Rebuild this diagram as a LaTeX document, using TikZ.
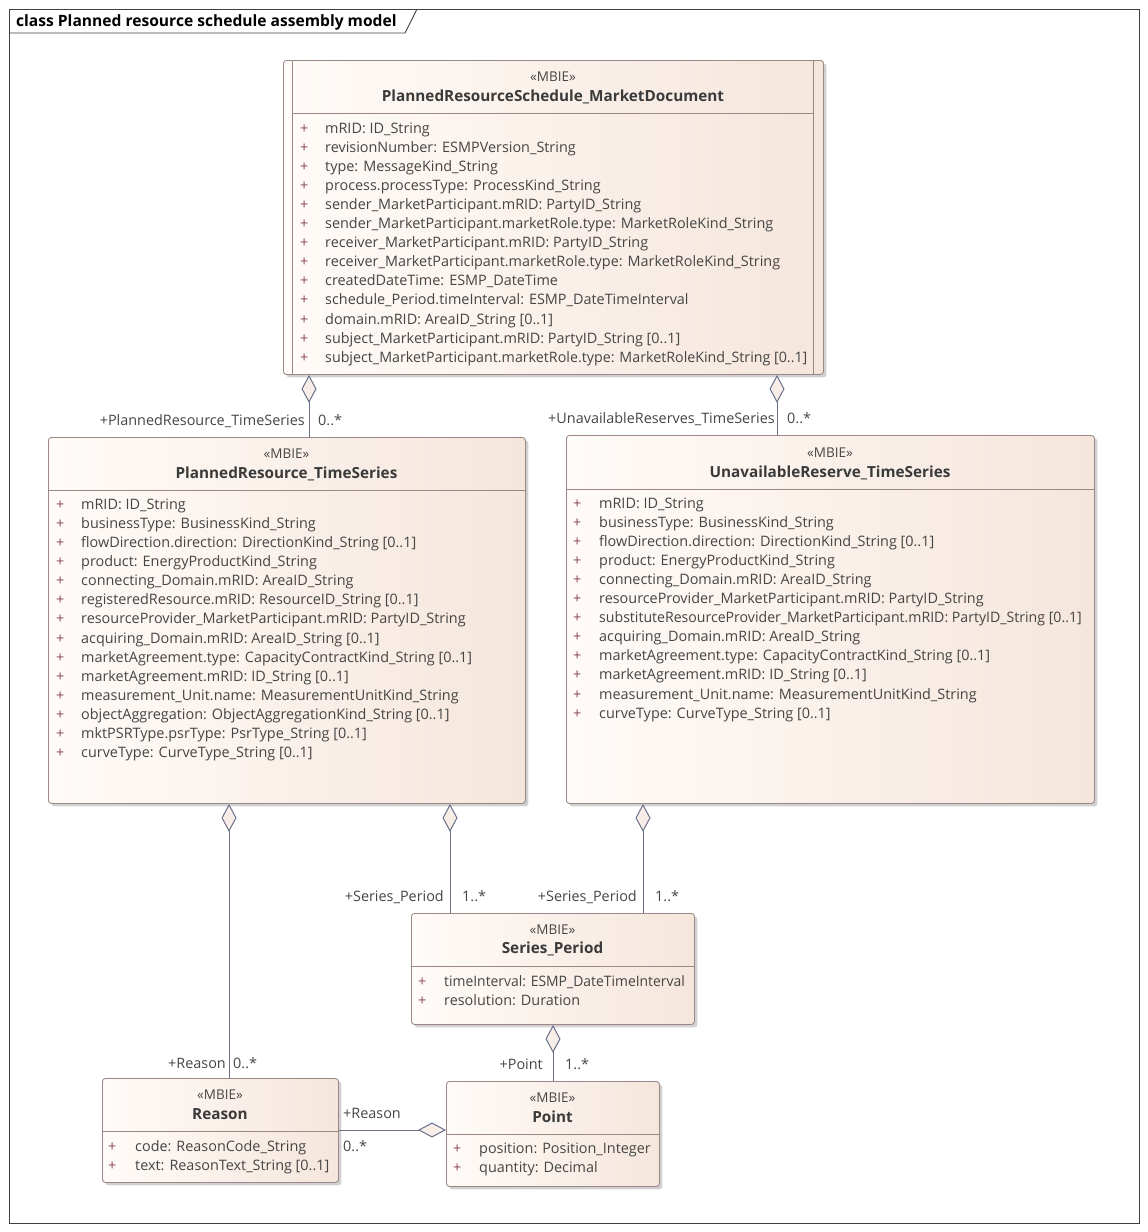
\documentclass[tikz,border=0pt]{standalone}
\usepackage{fontspec}
\setmainfont{Open Sans}
\usepackage{tikz}
\usetikzlibrary{arrows.meta,shadows,calc}

\definecolor{clsline}{HTML}{9C8787}
\definecolor{clsL}{HTML}{FFFBF8}
\definecolor{clsR}{HTML}{F5E6DC}
\definecolor{dfill}{HTML}{F9EDE8}
\definecolor{conn}{HTML}{68708A}
\definecolor{txt}{HTML}{454545}
\definecolor{txtdark}{HTML}{3A3A3A}
\definecolor{plusc}{HTML}{8A4B58}

\begin{document}
\begin{tikzpicture}[
    x=1pt, y=-1pt,
    cls/.style={draw=clsline, line width=0.9pt, rounded corners=3pt, left color=clsL, right color=clsR,
      anchor=north west, inner sep=0pt,
      drop shadow={shadow xshift=3pt, shadow yshift=-3pt, fill=black, opacity=0.18}},
    stereo/.style={font=\fontsize{13.5}{15}\selectfont, text=txt, anchor=base, inner sep=0pt},
    cname/.style={font=\bfseries\fontsize{15.3}{18}\selectfont, text=txtdark, anchor=base, inner sep=0pt},
    attr/.style={font=\fontsize{14.4}{17}\selectfont, text=txt, anchor=base west, inner sep=0pt},
    plus/.style={attr, text=plusc},
    sep/.style={draw=clsline, line width=0.9pt},
    agg/.style={draw=conn, line width=1pt, {Diamond[length=28pt, width=15pt, fill=dfill, line width=1pt]}-},
    role/.style={font=\fontsize{14.4}{17}\selectfont, text=txt, anchor=base east, inner sep=0pt},
    mult/.style={role, anchor=base west}
  ]
  \useasboundingbox (0,0) rectangle (1148,1232);

  % diagram frame and title tab
  \draw[line width=0.9pt, draw=black!75] (9,9) rectangle (1139,1223);
  \draw[line width=0.9pt, draw=black!75] (9,33) -- (405,33) -- (417,9);
  \node[font=\bfseries\fontsize{15.6}{18}\selectfont, anchor=base west, inner sep=0pt] (title) at (16,26)
    {class Planned resource schedule assembly model};

  % PlannedResourceSchedule_MarketDocument
  \node[cls, minimum width=540pt, minimum height=314pt] (doc) at (283,60) {};
  \draw[sep] (292,60) -- (292,374);
  \draw[sep] (813,60) -- (813,374);
  \node[stereo] (docSt) at (553,81) {«MBIE»};
  \node[cname] (docNm) at (553,101) {PlannedResourceSchedule\_MarketDocument};
  \draw[sep] (292,113) -- (813,113);
  \foreach \a [count=\i from 0] in {mRID: ID\_String, revisionNumber: ESMPVersion\_String,
      type: MessageKind\_String, process.processType: ProcessKind\_String,
      sender\_MarketParticipant.mRID: PartyID\_String,
      sender\_MarketParticipant.marketRole.type: MarketRoleKind\_String,
      receiver\_MarketParticipant.mRID: PartyID\_String,
      receiver\_MarketParticipant.marketRole.type: MarketRoleKind\_String,
      createdDateTime: ESMP\_DateTime, schedule\_Period.timeInterval: ESMP\_DateTimeInterval,
      domain.mRID: AreaID\_String [0..1], subject\_MarketParticipant.mRID: PartyID\_String [0..1],
      \scalebox{0.99}[1]{subject\_MarketParticipant.marketRole.type: MarketRoleKind\_String [0..1]}}
  {
    \node[plus] (docP\i) at (300,133+19.1*\i) {+};
    \node[attr] (docA\i) at (325,133+19.1*\i) {\a};
  }

  % PlannedResource_TimeSeries
  \node[cls, minimum width=477pt, minimum height=366pt] (prts) at (48,437) {};
  \node[stereo] (prtsSt) at (286.5,458) {«MBIE»};
  \node[cname] (prtsNm) at (286.5,478) {PlannedResource\_TimeSeries};
  \draw[sep] (prts.west |- 0,490) -- (prts.east |- 0,490);
  \foreach \a [count=\i from 0] in {mRID: ID\_String, businessType: BusinessKind\_String,
      flowDirection.direction: DirectionKind\_String [0..1], product: EnergyProductKind\_String,
      connecting\_Domain.mRID: AreaID\_String, registeredResource.mRID: ResourceID\_String [0..1],
      resourceProvider\_MarketParticipant.mRID: PartyID\_String,
      acquiring\_Domain.mRID: AreaID\_String [0..1],
      marketAgreement.type: CapacityContractKind\_String [0..1],
      marketAgreement.mRID: ID\_String [0..1], measurement\_Unit.name: MeasurementUnitKind\_String,
      objectAggregation: ObjectAggregationKind\_String [0..1],
      mktPSRType.psrType: PsrType\_String [0..1], curveType: CurveType\_String [0..1]}
  {
    \node[plus] (prtsP\i) at (56,509+19.15*\i) {+};
    \node[attr] (prtsA\i) at (81,509+19.15*\i) {\a};
  }

  % UnavailableReserve_TimeSeries
  \node[cls, minimum width=528pt, minimum height=368pt] (urts) at (566,435) {};
  \node[stereo] (urtsSt) at (830,457) {«MBIE»};
  \node[cname] (urtsNm) at (830,477) {UnavailableReserve\_TimeSeries};
  \draw[sep] (urts.west |- 0,489) -- (urts.east |- 0,489);
  \foreach \a [count=\i from 0] in {mRID: ID\_String, businessType: BusinessKind\_String,
      flowDirection.direction: DirectionKind\_String [0..1], product: EnergyProductKind\_String,
      connecting\_Domain.mRID: AreaID\_String,
      resourceProvider\_MarketParticipant.mRID: PartyID\_String,
      \scalebox{0.98}[1]{substituteResourceProvider\_MarketParticipant.mRID: PartyID\_String [0..1]},
      acquiring\_Domain.mRID: AreaID\_String,
      marketAgreement.type: CapacityContractKind\_String [0..1],
      marketAgreement.mRID: ID\_String [0..1], measurement\_Unit.name: MeasurementUnitKind\_String,
      curveType: CurveType\_String [0..1]}
  {
    \node[plus] (urtsP\i) at (573,508+19.1*\i) {+};
    \node[attr] (urtsA\i) at (599,508+19.1*\i) {\a};
  }

  % Series_Period
  \node[cls, minimum width=283pt, minimum height=111pt] (sp) at (411,913) {};
  \node[stereo] (spSt) at (552.5,934) {«MBIE»};
  \node[cname] (spNm) at (552.5,953) {Series\_Period};
  \draw[sep] (sp.west |- 0,966) -- (sp.east |- 0,966);
  \node[plus] (spP0) at (418,986) {+};
  \node[attr] (spA0) at (444,986) {\scalebox{0.965}[1]{timeInterval: ESMP\_DateTimeInterval}};
  \node[plus] (spP1) at (418,1005) {+};
  \node[attr] (spA1) at (444,1005) {resolution: Duration};

  % Reason
  \node[cls, minimum width=236pt, minimum height=104pt] (rsn) at (102,1078) {};
  \node[stereo] (rsnSt) at (220,1099) {«MBIE»};
  \node[cname] (rsnNm) at (220,1119) {Reason};
  \draw[sep] (rsn.west |- 0,1131) -- (rsn.east |- 0,1131);
  \node[plus] (rsnP0) at (108,1151) {+};
  \node[attr] (rsnA0) at (135,1151) {code: ReasonCode\_String};
  \node[plus] (rsnP1) at (108,1170) {+};
  \node[attr] (rsnA1) at (135,1170) {text: ReasonText\_String [0..1]};

  % Point
  \node[cls, minimum width=213pt, minimum height=105pt] (pt) at (446,1081) {};
  \node[stereo] (ptSt) at (552.5,1102) {«MBIE»};
  \node[cname] (ptNm) at (552.5,1122) {Point};
  \draw[sep] (pt.west |- 0,1134) -- (pt.east |- 0,1134);
  \node[plus] (ptP0) at (453,1153) {+};
  \node[attr] (ptA0) at (479,1153) {position: Position\_Integer};
  \node[plus] (ptP1) at (453,1172) {+};
  \node[attr] (ptA1) at (479,1172) {quantity: Decimal};

  % aggregations
  \draw[agg] (doc.south -| 309,0) -- (prts.north -| 309,0);
  \node[role] (r1) at (305,425) {+PlannedResource\_TimeSeries};
  \node[mult] (m1) at (318,425) {0..*};

  \draw[agg] (doc.south -| 777,0) -- (urts.north -| 777,0);
  \node[role] (r2) at (775,423) {+UnavailableReserves\_TimeSeries};
  \node[mult] (m2) at (787,423) {0..*};

  \draw[agg] (prts.south -| 229,0) -- (rsn.north -| 229,0);
  \node[role] (r3) at (226,1068) {+Reason};
  \node[mult] (m3) at (233,1068) {0..*};

  \draw[agg] (prts.south -| 450,0) -- (sp.north -| 450,0);
  \node[role] (r4) at (444,901) {+Series\_Period};
  \node[mult] (m4) at (462,901) {1..*};

  \draw[agg] (urts.south -| 643,0) -- (sp.north -| 643,0);
  \node[role] (r5) at (637,901) {+Series\_Period};
  \node[mult] (m5) at (655,901) {1..*};

  \draw[agg] (sp.south -| 553,0) -- (pt.north -| 553,0);
  \node[role] (r6) at (543,1069) {+Point};
  \node[mult] (m6) at (565,1069) {1..*};

  \draw[agg] (pt.west |- 0,1130) -- (rsn.east |- 0,1130);
  \node[mult] (r7) at (343,1118) {+Reason};
  \node[mult] (m7) at (343,1151) {0..*};
\end{tikzpicture}
\end{document}
